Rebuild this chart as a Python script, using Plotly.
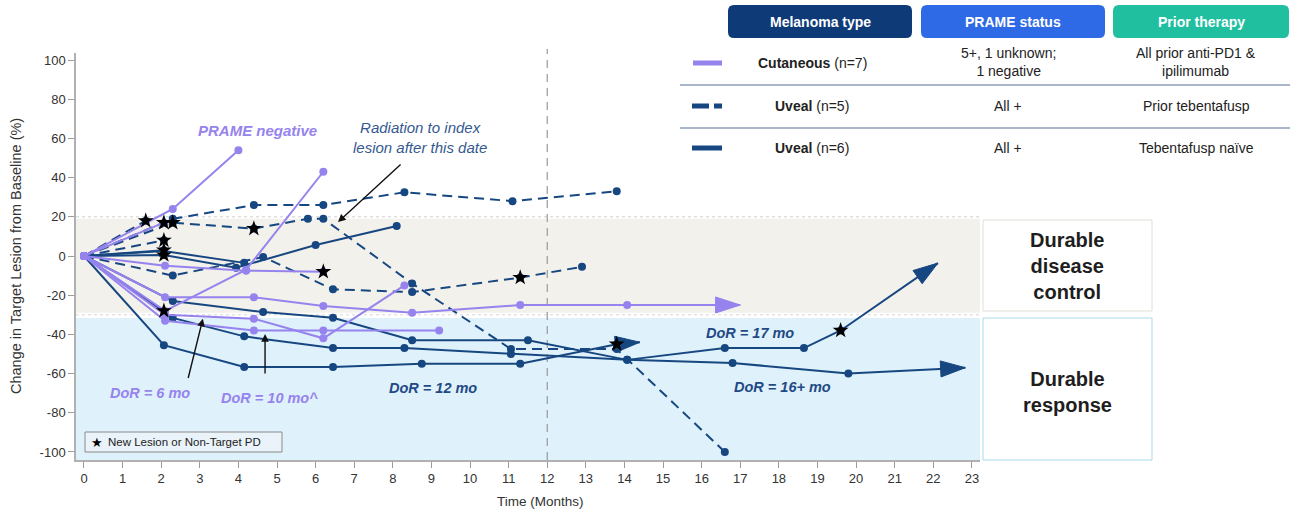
import plotly.graph_objects as go

FONT = "Liberation Sans, Arial, Helvetica, sans-serif"
PURPLE = "#9683ee"
NAVY = "#174780"
NAVY_TEXT = "#1f4a85"
RAD_TEXT = "#34598f"

# ---------------- data ----------------
# Cutaneous melanoma (solid purple)
cut_times = [
    [0, 2.3, 4.0],
    [0, 2.1, 4.2, 6.2],
    [0, 2.1, 4.2, 6.2],
    [0, 2.1, 4.4, 6.2, 8.5, 11.3, 14.07, 17.0],
    [0, 2.1, 4.4, 6.2, 8.3],
    [0, 2.1, 4.4, 6.2, 9.2],
    [0, 2.07],
]
cut_values = [
    [0, 24, 54],
    [0, -28, -7, 43],
    [0, -5, -7.5, -8],
    [0, -21, -21, -25.5, -29, -25, -25, -25],
    [0, -30, -32, -42, -15],
    [0, -33, -38, -38, -38],
    [0, 17],
]
cut_ongoing = [False, False, False, True, False, False, False]

# Uveal melanoma, prior tebentafusp (dashed navy)
prior_times = [
    [0, 2.3, 4.4, 6.2, 8.3, 11.1, 13.8],
    [0, 2.3, 4.4, 5.8, 6.2, 8.5, 11.06, 13.8, 16.6],
    [0, 2.3, 4.64, 6.45, 8.5, 11.3, 12.9],
    [0, 2.07],
    [0, 1.6],
]
prior_values = [
    [0, 19, 26, 26, 32.5, 28, 33],
    [0, 17, 14, 19, 19, -14, -47.5, -47.5, -100],
    [0, -10, -0.5, -17, -18.4, -11, -5.5],
    [0, 8],
    [0, 18],
]
prior_ongoing = [False, False, False, False, False]

# Uveal melanoma, tebentafusp naive (solid navy)
naive_times = [
    [0, 2.07, 3.94, 6.0, 8.1],
    [0, 2.07, 4.15],
    [0, 2.3, 4.64, 6.45, 8.5, 11.5, 14.07, 16.8, 19.8, 22.83],
    [0, 2.3, 4.15, 6.45, 8.3, 11.06, 14.07, 16.6, 18.65, 19.6, 22.12],
    [0, 2.07, 4.15, 6.45, 8.75, 11.3, 13.8, 14.4],
    [0, 2.07],
]
naive_values = [
    [0, 0.5, -6, 5.6, 15.3],
    [0, 2.5, -3.5],
    [0, -23, -28.6, -31.5, -43, -43, -53, -54.6, -60, -57],
    [0, -31.6, -41, -47, -47, -50, -53, -47, -47, -38, -3.6],
    [0, -45.5, -56.6, -56.6, -55, -55, -45, -44],
    [0, 3],
]
naive_ongoing = [False, False, True, True, True, False]

# New lesion or non-target progression
star_times = [1.6, 2.07, 2.3, 2.07, 2.07, 2.07, 4.4, 2.07, 6.2, 11.3, 13.8, 19.6]
star_values = [18, 17, 17, 8, 3, 0.5, 14, -28, -8, -11, -45, -38]

x_ticks = list(range(0, 24))
y_ticks = list(range(-100, 101, 20))
y_tick_labels = [str(v) for v in y_ticks]

# ---------------- geometry ----------------
W, H = 1290, 520
PLOT_L, PLOT_R, PLOT_T, PLOT_B = 76, 980, 53, 460
X_RANGE = [-0.207, 23.21]
Y_RANGE = [-104.1, 103.6]


def fx(px):
    return (px - PLOT_L) / (PLOT_R - PLOT_L)


def fy(py):
    return (PLOT_B - py) / (PLOT_B - PLOT_T)


fig = go.Figure()


def add_patient(t, v, color, dash, ongoing):
    sizes = [8] * len(t)
    if ongoing:
        sizes[-1] = 0
    fig.add_trace(go.Scatter(
        x=t, y=v, mode="lines+markers",
        line=dict(color=color, width=2, dash=dash),
        marker=dict(size=sizes, color=color, opacity=1, line=dict(width=0)),
        hoverinfo="skip", showlegend=False,
    ))
    if ongoing:
        fig.add_trace(go.Scatter(
            x=t[-2:], y=v[-2:], mode="markers",
            marker=dict(symbol="arrow", size=[0, 26], angleref="previous",
                        color=color, opacity=1,
                        line=dict(width=1, color=color)),
            hoverinfo="skip", showlegend=False,
        ))


for t, v, o in zip(prior_times, prior_values, prior_ongoing):
    add_patient(t, v, NAVY, "10px,6px", o)
for t, v, o in zip(naive_times, naive_values, naive_ongoing):
    add_patient(t, v, NAVY, "solid", o)
for t, v, o in zip(cut_times, cut_values, cut_ongoing):
    add_patient(t, v, PURPLE, "solid", o)

fig.add_trace(go.Scatter(
    x=star_times, y=star_values, mode="markers",
    marker=dict(symbol="star", size=12, color="black", opacity=1,
                line=dict(width=0)),
    hoverinfo="skip", showlegend=False,
))

# ---------------- background bands and guide lines ----------------
shapes = [
    dict(type="rect", xref="paper", yref="y", x0=0, x1=1, y0=-29, y1=19,
         fillcolor="#f3f1ec", line=dict(width=0), layer="below"),
    dict(type="rect", xref="paper", yref="paper", x0=0, x1=1, y0=0, y1=fy(318),
         fillcolor="#dff1fb", line=dict(width=0), layer="below"),
    dict(type="line", xref="paper", yref="y", x0=0, x1=1, y0=20, y1=20,
         line=dict(color="#cfcfcf", width=1, dash="dot"), layer="below"),
    dict(type="line", xref="paper", yref="y", x0=0, x1=1, y0=-30, y1=-30,
         line=dict(color="#d6d6d6", width=1, dash="dot"), layer="below"),
    dict(type="line", xref="x", yref="paper", x0=12, x1=12, y0=0, y1=1.01,
         line=dict(color="#9a9a9a", width=1.2, dash="8px,6px"), layer="below"),
    # outcome boxes right of the plot
    dict(type="rect", xref="paper", yref="paper", x0=fx(983), x1=fx(1152),
         y0=fy(311), y1=fy(220), fillcolor="white",
         line=dict(color="#e2ded6", width=1)),
    dict(type="rect", xref="paper", yref="paper", x0=fx(983), x1=fx(1152),
         y0=fy(460), y1=fy(318), fillcolor="white",
         line=dict(color="#a9d9ea", width=1)),
    # star legend box
    dict(type="rect", xref="paper", yref="paper", x0=fx(85), x1=fx(282),
         y0=fy(452), y1=fy(432), fillcolor="#e9f3f9",
         line=dict(color="#8a8a8a", width=1)),
]


def rounded_box(x0, y0, x1, y1, r, color):
    ax0, ax1 = fx(x0), fx(x1)
    ay0, ay1 = fy(y1), fy(y0)  # bottom, top in paper units
    rx = r / (PLOT_R - PLOT_L)
    ry = r / (PLOT_B - PLOT_T)
    path = (
        f"M{ax0 + rx},{ay1} L{ax1 - rx},{ay1} Q{ax1},{ay1} {ax1},{ay1 - ry} "
        f"L{ax1},{ay0 + ry} Q{ax1},{ay0} {ax1 - rx},{ay0} "
        f"L{ax0 + rx},{ay0} Q{ax0},{ay0} {ax0},{ay0 + ry} "
        f"L{ax0},{ay1 - ry} Q{ax0},{ay1} {ax0 + rx},{ay1} Z"
    )
    return dict(type="path", xref="paper", yref="paper", path=path,
                fillcolor=color, line=dict(width=0))


# table headers
shapes.append(rounded_box(728, 5, 912, 38, 6, "#0e3a78"))
shapes.append(rounded_box(921, 5, 1105, 38, 6, "#2f6ae6"))
shapes.append(rounded_box(1113, 5, 1289, 38, 6, "#1fbf9f"))

# table separators
for py in (85, 128):
    shapes.append(dict(type="line", xref="paper", yref="paper",
                       x0=fx(680), x1=fx(1290), y0=fy(py), y1=fy(py),
                       line=dict(color="#8d9db6", width=1.5)))

# line-style samples in the table
shapes.append(dict(type="line", xref="paper", yref="paper", x0=fx(693), x1=fx(722),
                   y0=fy(63), y1=fy(63), line=dict(color=PURPLE, width=5)))
shapes.append(dict(type="line", xref="paper", yref="paper", x0=fx(692), x1=fx(709),
                   y0=fy(106), y1=fy(106), line=dict(color=NAVY, width=5)))
shapes.append(dict(type="line", xref="paper", yref="paper", x0=fx(714), x1=fx(722),
                   y0=fy(106), y1=fy(106), line=dict(color=NAVY, width=5)))
shapes.append(dict(type="line", xref="paper", yref="paper", x0=fx(692), x1=fx(722),
                   y0=fy(148), y1=fy(148), line=dict(color=NAVY, width=5)))

annotations = []


def note_px(text, px, py, size=14, color="#222222", xanchor="center",
            yanchor="middle", align="center", angle=0):
    annotations.append(dict(
        text=text, xref="paper", yref="paper", x=fx(px), y=fy(py),
        xanchor=xanchor, yanchor=yanchor, align=align, showarrow=False,
        textangle=angle, font=dict(family=FONT, size=size, color=color),
    ))


def note_data(text, x, y, size=15, color=NAVY_TEXT):
    annotations.append(dict(
        text=text, xref="x", yref="y", x=x, y=y, showarrow=False,
        xanchor="center", yanchor="middle",
        font=dict(family=FONT, size=size, color=color),
    ))


def pointer(x_head, y_head, x_tail, y_tail):
    annotations.append(dict(
        text="", xref="x", yref="y", axref="x", ayref="y",
        x=x_head, y=y_head, ax=x_tail, ay=y_tail, showarrow=True,
        arrowhead=2, arrowsize=1.1, arrowwidth=1.4, arrowcolor="#111111",
    ))


# table text
note_px("<b>Melanoma type</b>", 820, 22, size=14, color="white")
note_px("<b>PRAME status</b>", 1013, 22, size=14, color="white")
note_px("<b>Prior therapy</b>", 1201, 22, size=14, color="white")

note_px("<b>Cutaneous</b> (n=7)", 812, 63)
note_px("5+, 1 unknown;<br>1 negative", 1008, 62)
note_px("All prior anti-PD1 &<br>ipilimumab", 1196, 62)

note_px("<b>Uveal</b> (n=5)", 812, 106)
note_px("All +", 1008, 106)
note_px("Prior tebentafusp", 1196, 106)

note_px("<b>Uveal</b> (n=6)", 812, 148)
note_px("All +", 1008, 148)
note_px("Tebentafusp naïve", 1196, 148)

# outcome box labels
note_px("<b>Durable<br>disease<br>control</b>", 1067, 266, size=20, color="#1e1e1e")
note_px("<b>Durable<br>response</b>", 1067, 392, size=20, color="#1e1e1e")

# star legend
note_px("★", 89, 442, size=13, color="black", xanchor="left")
note_px("New Lesion or Non-Target PD", 106, 442, size=11.5, color="#222222",
        xanchor="left")

# axis titles
note_px("Time (Months)", 540, 501, size=13.5, color="#333333")
note_px("Change in Target Lesion from Baseline (%)", 16, 256, size=14.5,
        color="#333333", angle=-90)

# in-plot labels
note_data("<b><i>PRAME negative</i></b>", 4.5, 64, size=15, color=PURPLE)
note_data("<i>Radiation to index<br>lesion after this date</i>", 8.7, 60.5,
          size=15, color=RAD_TEXT)
note_data("<b><i>DoR = 6 mo</i></b>", 1.71, -70, size=14.5, color=PURPLE)
note_data("<b><i>DoR = 10 mo^</i></b>", 4.8, -72.5, size=14.5, color=PURPLE)
note_data("<b><i>DoR = 12 mo</i></b>", 9.04, -67.3, size=14.5)
note_data("<b><i>DoR = 17 mo</i></b>", 17.25, -39.3, size=14.5)
note_data("<b><i>DoR = 16+ mo</i></b>", 18.1, -66.8, size=14.5)

pointer(6.58, 17.3, 8.24, 47.4)
pointer(3.08, -32, 2.69, -63)
pointer(4.69, -39.8, 4.69, -60.7)

fig.update_layout(
    width=W, height=H,
    margin=dict(l=PLOT_L, r=W - PLOT_R, t=PLOT_T, b=H - PLOT_B, pad=0),
    paper_bgcolor="white", plot_bgcolor="white",
    font=dict(family=FONT, size=13, color="#333333"),
    shapes=shapes, annotations=annotations, showlegend=False,
    xaxis=dict(range=X_RANGE, tickmode="array", tickvals=x_ticks,
               ticks="outside", ticklen=6, tickcolor="#9a9a9a",
               showline=True, linecolor="#b0b0b0", linewidth=1.5,
               showgrid=False, zeroline=False,
               tickfont=dict(size=13, color="#333333")),
    yaxis=dict(range=Y_RANGE, tickmode="array", tickvals=y_ticks,
               ticktext=y_tick_labels,
               ticks="outside", ticklen=6, tickcolor="#9a9a9a",
               showline=True, linecolor="#b0b0b0", linewidth=1.5,
               showgrid=False, zeroline=False,
               tickfont=dict(size=13, color="#333333")),
)

fig.write_html("out.html")
